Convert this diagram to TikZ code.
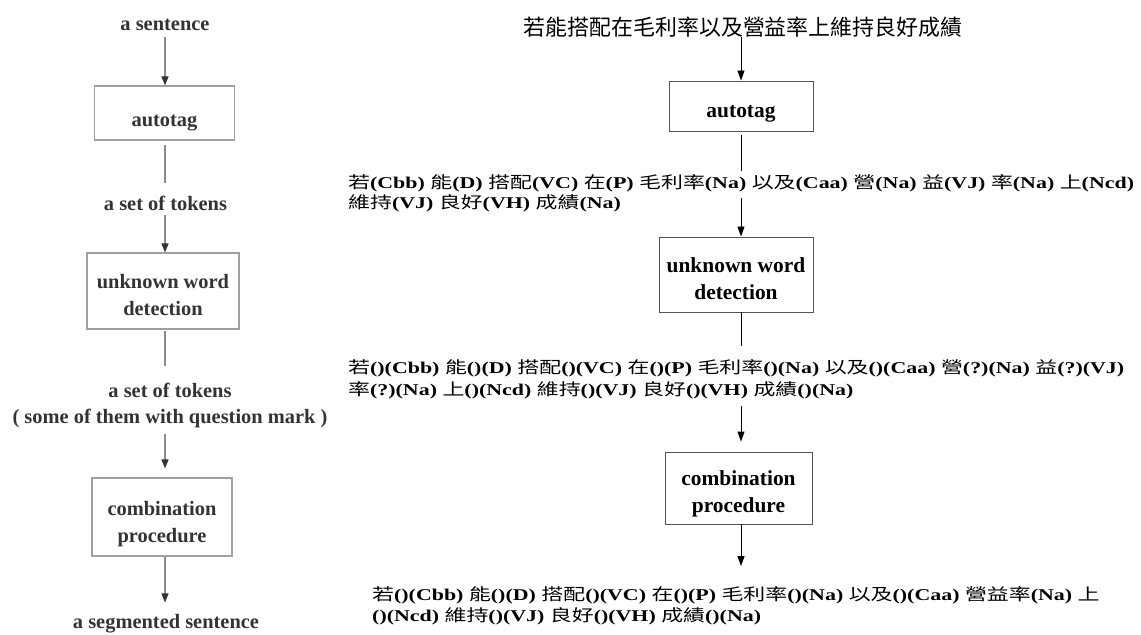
\documentclass[tikz,border=0pt]{standalone}
\usepackage{fontspec}
\setmainfont{Liberation Serif}
\newfontfamily\cjkf{Noto Sans CJK TC}
\usetikzlibrary{arrows.meta}
\newcommand\cj[1]{{\cjkf\mdseries #1}}
\newcommand\vsq[1]{\scalebox{1}[0.75]{#1}}
\newcommand\lift[1]{\rule{0pt}{#1}}
\definecolor{ltxt}{HTML}{333333}
\definecolor{lboxc}{HTML}{A0A0A0}
\definecolor{llinec}{HTML}{8C8C8C}
\definecolor{rboxc}{HTML}{555555}
\begin{document}
\begin{tikzpicture}[x=1bp, y=-1bp,
  ltext/.style={font=\fontsize{20.5}{27}\selectfont\bfseries, text=ltxt, inner sep=0, align=center},
  lbox/.style={draw=lboxc, line width=1.2bp, inner sep=0, align=center, font=\fontsize{20.5}{27}\selectfont\bfseries, text=ltxt},
  lcon/.style={draw=llinec, line width=1.2bp},
  larr/.style={lcon, -{Triangle[length=9bp,width=7bp,color=ltxt]}},
  rbox/.style={draw=rboxc, line width=0.9bp, inner sep=0, align=center, font=\fontsize{21.5}{27}\selectfont\bfseries},
  tagline/.style={font=\fontsize{22}{25}\selectfont\bfseries, inner sep=0, anchor=west},
  rcon/.style={draw=black, line width=0.9bp},
  rarr/.style={rcon, -{Triangle[length=10bp,width=7bp]}}]
\useasboundingbox (0,0) rectangle (1141,635);
% ---------- left column ----------
\node[ltext] (s1) at (165,25) {a sentence};
\node[lbox, minimum width=140bp, minimum height=54bp] (box1) at (164.5,113) {\lift{32bp}autotag};
\node[ltext] (t1) at (165.5,203) {a set of tokens};
\node[lbox, minimum width=152bp, minimum height=76bp] (box2) at (163,291) {\lift{23bp}unknown word\\detection};
\node[ltext] (t2) at (170,405.5) {a set of tokens\\( some of them with question mark )};
\node[lbox, minimum width=140bp, minimum height=78bp] (box3) at (162,517) {\lift{29bp}combination\\procedure};
\node[ltext] (t3) at (166,624) {a segmented sentence};
\draw[larr, shorten <=6bp] (s1.south) -- (box1.north -| s1);
\draw[lcon, shorten <=4bp, shorten >=13bp] (box1.south -| s1) -- (t1.north -| s1);
\draw[larr, shorten <=5bp] (t1.south -| s1) -- (box2.north -| s1);
\draw[lcon, shorten <=1bp, shorten >=16bp] (box2.south -| s1) -- (t2.north -| s1);
\draw[larr, shorten <=5bp, shorten >=9bp] (t2.south -| s1) -- (box3.north -| s1);
\draw[larr, shorten >=12bp] (box3.south -| s1) -- (t3.north -| s1);
% ---------- right column ----------
\node[font=\fontsize{22}{26}\selectfont\cjkf, inner sep=0] (title) at (743,27) {若能搭配在毛利率以及營益率上維持良好成績};
\node[rbox, minimum width=144bp, minimum height=50bp] (A) at (741,106) {\lift{28bp}autotag};
\node[tagline] (b1a) at (348,183) {\vsq{\cj{若}(Cbb) \cj{能}(D) \cj{搭配}(VC) \cj{在}(P) \cj{毛利率}(Na) \cj{以及}(Caa) \cj{營}(Na) \cj{益}(VJ) \cj{率}(Na) \cj{上}(Ncd)}};
\node[tagline] (b1b) at (348,203) {\vsq{\cj{維持}(VJ) \cj{良好}(VH) \cj{成績}(Na)}};
\node[rbox, minimum width=154bp, minimum height=75bp] (B) at (736,274.5) {\lift{23bp}unknown word\\detection};
\node[tagline] (b2a) at (348,368) {\vsq{\cj{若}()(Cbb) \cj{能}()(D) \cj{搭配}()(VC) \cj{在}()(P) \cj{毛利率}()(Na) \cj{以及}()(Caa) \cj{營}(?)(Na) \cj{益}(?)(VJ)}};
\node[tagline] (b2b) at (348,390) {\vsq{\cj{率}(?)(Na) \cj{上}()(Ncd) \cj{維持}()(VJ) \cj{良好}()(VH) \cj{成績}()(Na)}};
\node[rbox, minimum width=147bp, minimum height=72bp] (C) at (738.5,488) {\lift{26bp}combination\\procedure};
\node[tagline] (b3a) at (372,595) {\vsq{\cj{若}()(Cbb) \cj{能}()(D) \cj{搭配}()(VC) \cj{在}()(P) \cj{毛利率}()(Na) \cj{以及}()(Caa) \cj{營益率}(Na) \cj{上}}};
\node[tagline] (b3b) at (372,616) {\vsq{()(Ncd) \cj{維持}()(VJ) \cj{良好}()(VH) \cj{成績}()(Na)}};
\draw[rarr] (title.south -| A) -- (A.north);
\draw[rcon, shorten <=4bp, shorten >=3bp] (A.south) -- (A |- b1a.north);
\draw[rarr, shorten <=6bp] (A |- b1a.south) -- (A |- B.north);
\draw[rcon, shorten >=13bp] (A |- B.south) -- (A |- b2a.north);
\draw[rarr, shorten <=7bp, shorten >=10bp] (A |- b2b.south) -- (A |- C.north);
\draw[rarr, shorten >=20bp] (A |- C.south) -- (A |- b3a.north);
\end{tikzpicture}
\end{document}
